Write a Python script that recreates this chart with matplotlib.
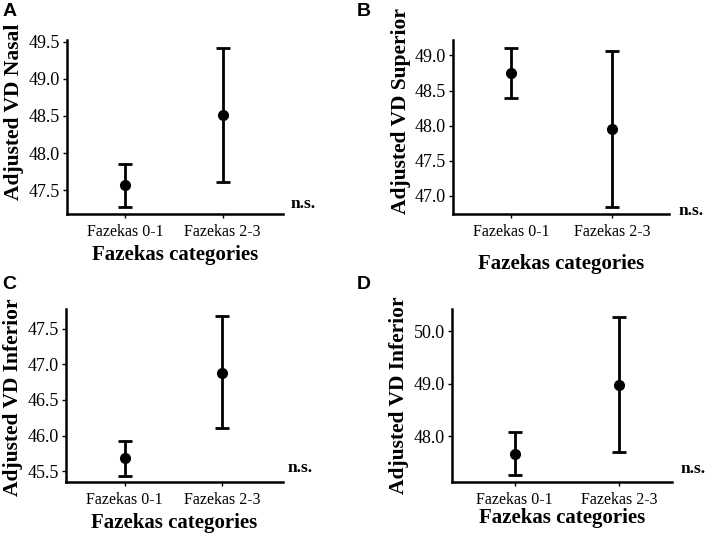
import matplotlib.pyplot as plt

# Data (mean, lower CI, upper CI)
categories = ["Fazekas 0-1", "Fazekas 2-3"]

nasal_mean = [47.57, 48.51]
nasal_low = [47.27, 47.61]
nasal_high = [47.85, 49.41]

superior_mean = [48.75, 47.95]
superior_low = [48.39, 46.84]
superior_high = [49.11, 49.06]

inferior_c_mean = [45.69, 46.88]
inferior_c_low = [45.44, 46.11]
inferior_c_high = [45.93, 47.67]

inferior_d_mean = [47.67, 48.97]
inferior_d_low = [47.26, 47.70]
inferior_d_high = [48.09, 50.27]

plt.rcParams['font.family'] = ['Liberation Serif', 'DejaVu Serif']

fig = plt.figure(figsize=(7.08, 5.34), dpi=100)

panels = [
    # letter, ylabel, mean, low, high, rect, ylim, yticks, xlim, xlabel pad,
    # letter pos, n.s. pos, ylabel y
    ("A", "Adjusted VD Nasal", nasal_mean, nasal_low, nasal_high,
     [0.0946, 0.599, 0.305, 0.326], (47.18, 49.52), [47.5, 48.0, 48.5, 49.0, 49.5],
     (0.40, 2.62), 4, (0.003, 0.995), (1.037, 0.06), 0.59),
    ("B", "Adjusted VD Superior", superior_mean, superior_low, superior_high,
     [0.640, 0.599, 0.305, 0.326], (46.74, 49.22), [47.0, 47.5, 48.0, 48.5, 49.0],
     (0.43, 2.56), 10, (0.504, 0.995), (1.046, 0.02), 0.59),
    ("C", "Adjusted VD Inferior", inferior_c_mean, inferior_c_low, inferior_c_high,
     [0.093, 0.0974, 0.307, 0.3246], (45.35, 47.78), [45.5, 46.0, 46.5, 47.0, 47.5],
     (0.40, 2.62), 4, (0.003, 0.484), (1.02, 0.08), 0.49),
    ("D", "Adjusted VD Inferior", inferior_d_mean, inferior_d_low, inferior_d_high,
     [0.638, 0.0974, 0.311, 0.3246], (47.13, 50.43), [48.0, 49.0, 50.0],
     (0.394, 2.51), 0, (0.504, 0.484), (1.04, 0.075), 0.5),
]

x = [1, 2]
for letter, ylab, mean, low, high, rect, ylim, yticks, xlim, lpad, lpos, nspos, ly in panels:
    ax = fig.add_axes(rect)
    yerr = [[m - l for m, l in zip(mean, low)], [h - m for m, h in zip(mean, high)]]
    ax.errorbar(x, mean, yerr=yerr, fmt='o', color='black', ms=7,
                elinewidth=2, capsize=5, capthick=2)
    ax.set_xlim(*xlim)
    ax.set_ylim(*ylim)
    ax.set_xticks(x)
    ax.set_xticklabels(categories, fontsize=11.5)
    ax.set_yticks(yticks)
    ax.set_yticklabels([f"{t:.1f}" for t in yticks], fontsize=13)
    ax.tick_params(length=3, width=1, pad=2)
    ax.tick_params(axis='x', pad=4)
    for s in ['top', 'right']:
        ax.spines[s].set_visible(False)
    for s in ['left', 'bottom']:
        ax.spines[s].set_linewidth(1.8)
    ax.set_xlabel("Fazekas categories", fontsize=15, fontweight='bold', labelpad=lpad)
    ax.set_ylabel(ylab, fontsize=15.5, fontweight='bold', labelpad=3)
    ax.yaxis.label.set_y(ly)
    ax.text(nspos[0], nspos[1], "n.s.", transform=ax.transAxes, fontsize=12.5,
            fontweight='bold', ha='left', va='center')
    fig.text(lpos[0], lpos[1], letter, fontsize=14, fontweight='bold',
             family='Liberation Sans', ha='left', va='top')

fig.savefig("out.png", dpi=100)
